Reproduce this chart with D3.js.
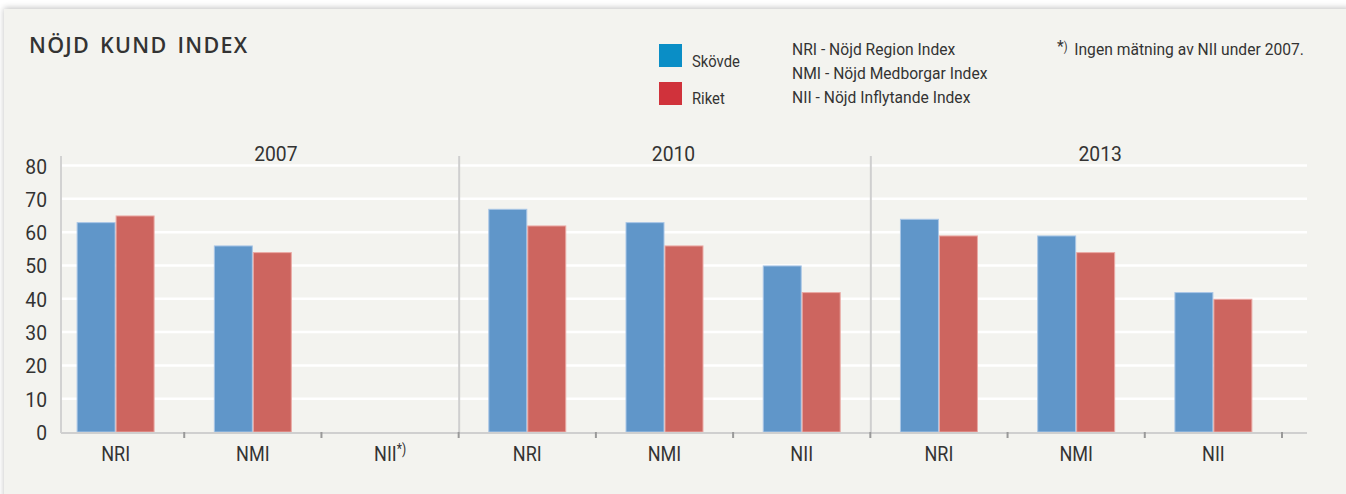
<!DOCTYPE html>
<html><head><meta charset="utf-8">
<script src="https://cdn.jsdelivr.net/npm/d3@7"></script>
<style>
body{margin:0;background:#fff;}
svg{display:block;}
text{font-family:"Roboto","Liberation Sans",sans-serif;fill:#333;}
</style></head><body>
<script>
const years = ["2007", "2010", "2013"];
const indexNames = ["NRI", "NMI", "NII"];
const categories = ["NRI","NMI","NII","NRI","NMI","NII","NRI","NMI","NII"];
const skovde = [63, 56, null, 67, 63, 50, 64, 59, 42];
const riket  = [65, 54, null, 62, 56, 42, 59, 54, 40];
const seriesNames = ["Skövde", "Riket"];
const yTicks = [0,10,20,30,40,50,60,70,80];
const explanations = ["NRI - Nöjd Region Index","NMI - Nöjd Medborgar Index","NII - Nöjd Inflytande Index"];

const W = 1346, H = 494;
const SX = 0.88; // condensed look
const svg = d3.select("body").append("svg").attr("width", W).attr("height", H);

function ctext(g, x, y, size, sx) {
  return g.append("text").attr("transform", `translate(${x},${y}) scale(${sx == null ? SX : sx},1)`).attr("font-size", size);
}

const defs = svg.append("defs");
const f = defs.append("filter").attr("id","sh").attr("x","-5%").attr("y","-5%").attr("width","110%").attr("height","110%");
f.append("feGaussianBlur").attr("in","SourceAlpha").attr("stdDeviation",3);
f.append("feOffset").attr("dx",0).attr("dy",-1).attr("result","b");
f.append("feComponentTransfer").append("feFuncA").attr("type","linear").attr("slope",0.25);
const fm = f.append("feMerge"); fm.append("feMergeNode"); fm.append("feMergeNode").attr("in","SourceGraphic");

svg.append("rect").attr("x",4).attr("y",9).attr("width",W).attr("height",H).attr("fill","#f3f3ef").attr("filter","url(#sh)");

const keys = categories.map((c,i)=>i);
const x0 = d3.scaleBand().domain(keys).range([47, 1282]);
const x1 = d3.scaleBand().domain(seriesNames).range([0, x0.bandwidth()]).paddingOuter(0.76);
const y = d3.scaleLinear().domain([0, 80]).range([432, 165.5]);
const plotLeft = 61, plotRight = 1307;
const colors = {"Skövde":"#6096c9", "Riket":"#cd655f"};
const strokes = {"Skövde":"#a9c6e6", "Riket":"#eaa9a4"};

// gridlines
svg.append("g").selectAll("line").data(yTicks.filter(d=>d>0)).join("line")
  .attr("x1", plotLeft).attr("x2", plotRight)
  .attr("y1", d=>y(d)).attr("y2", d=>y(d))
  .attr("stroke","#ffffff").attr("stroke-width",2.5);

// y labels
const yl = svg.append("g");
yTicks.forEach(d=>{
  ctext(yl, 47, y(d)+8, 21, 0.92).attr("text-anchor","end").text(d);
});

// year separators
const sepIdx = [3, 6];
svg.append("g").selectAll("line").data(sepIdx).join("line")
  .attr("x1", d=>x0(d)+0.5).attr("x2", d=>x0(d)+0.5)
  .attr("y1", 156).attr("y2", 432)
  .attr("stroke","#cfcfcf").attr("stroke-width",2);

// y axis line
svg.append("line").attr("x1",plotLeft).attr("x2",plotLeft).attr("y1",156).attr("y2",433)
  .attr("stroke","#d2d2d2").attr("stroke-width",2);

// bars
const data = [];
keys.forEach(i=>{
  [["Skövde", skovde[i]],["Riket", riket[i]]].forEach(([s,v])=>{
    if (v != null) data.push({i, s, v});
  });
});
svg.append("g").selectAll("rect").data(data).join("rect")
  .attr("x", d=>x0(d.i)+x1(d.s)+0.5)
  .attr("y", d=>y(d.v)+0.5)
  .attr("width", x1.bandwidth()-1)
  .attr("height", d=>y(0)-y(d.v)-0.5)
  .attr("fill", d=>colors[d.s])
  .attr("stroke", d=>strokes[d.s]).attr("stroke-width",1);

// baseline
svg.append("line").attr("x1",plotLeft).attr("x2",plotRight).attr("y1",433).attr("y2",433)
  .attr("stroke","#cfcfcf").attr("stroke-width",2);
// ticks
svg.append("g").selectAll("line").data(keys).join("line")
  .attr("x1", d=>x0(d)+x0.bandwidth()).attr("x2", d=>x0(d)+x0.bandwidth())
  .attr("y1", 432).attr("y2", 438)
  .attr("stroke","#999").attr("stroke-width",2);

// category labels
const cg = svg.append("g");
keys.forEach(d=>{
  const t = ctext(cg, x0(d)+x0.bandwidth()/2, 461, 21, 0.86).attr("text-anchor","middle");
  t.append("tspan").text(categories[d]);
  if (skovde[d] == null && riket[d] == null) {
    t.append("tspan").attr("font-size",14).attr("dy",-7).text("*)");
  }
});

// year labels
const yearOffsets = [23, 9, 24];
const yg = svg.append("g");
years.forEach((d,j)=>{
  ctext(yg, x0(j*3+1)+x0.bandwidth()/2+yearOffsets[j], 161, 21, 0.92).attr("text-anchor","middle").text(d);
});

// title
svg.append("text").attr("x",29).attr("y",53).attr("font-size",21.5).attr("font-weight",600)
  .style("font-family","'Open Sans','Noto Sans',sans-serif").style("letter-spacing","1.3px").style("word-spacing","3px")
  .attr("fill","#222").text("NÖJD KUND INDEX");

// legend
const legColors = {"Skövde":"#0a8ec6", "Riket":"#d0323b"};
const lg = svg.append("g");
seriesNames.forEach((s,k)=>{
  lg.append("rect").attr("x",659).attr("y",44+k*38).attr("width",23).attr("height",23).attr("fill",legColors[s]);
  ctext(lg, 692, 67+k*37, 17, 0.87).text(s);
});
explanations.forEach((e,k)=>{
  ctext(lg, 792, 55+k*24, 17, 0.92).text(e);
});
const note = ctext(lg, 1057, 55, 17, 0.92);
note.append("tspan").attr("font-size",17).attr("dy",-3).text("*");
note.append("tspan").attr("font-size",12).attr("dy",-1).text(")");
note.append("tspan").attr("dy",4).attr("dx",3).text(" Ingen mätning av NII under 2007.");
</script>
</body></html>
